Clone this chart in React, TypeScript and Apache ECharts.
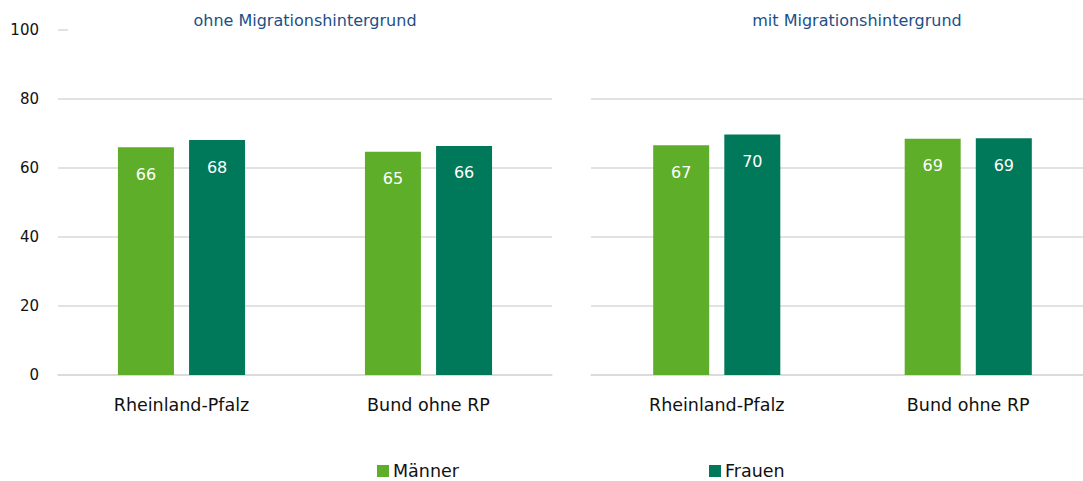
import React, { useEffect, useRef } from "react";
import * as echarts from "echarts";

const categories = ["Rheinland-Pfalz", "Bund ohne RP"];
const panelTitles = ["ohne Migrationshintergrund", "mit Migrationshintergrund"];
const seriesNames = ["Männer", "Frauen"];
const ohneMaenner = [66.0, 64.7];
const ohneFrauen = [68.1, 66.4];
const mitMaenner = [66.6, 68.5];
const mitFrauen = [69.7, 68.6];
const yTicks = [0, 20, 40, 60, 80, 100];

const FONT = "DejaVu Sans";
const LIGHT = "#5eae2a";
const DARK = "#00785a";
const GRIDC = "#d9d9d9";

export default function App() {
  const ref = useRef<HTMLDivElement>(null);
  useEffect(() => {
    if (!ref.current) return;
    const chart = echarts.init(ref.current, undefined, { renderer: "svg" });
    const label = {
      show: true,
      position: "insideTop",
      distance: 19,
      color: "#ffffff",
      fontFamily: FONT,
      fontSize: 16,
      formatter: (p: any) => String(Math.round(p.value)),
    };
    const bar = (name: string, data: number[], idx: number, color: string) => ({
      type: "bar",
      name,
      data,
      xAxisIndex: idx,
      yAxisIndex: idx,
      barWidth: 56,
      barGap: "27%",
      itemStyle: { color },
      label,
    });
    const xAxis = (idx: number) => ({
      type: "category",
      gridIndex: idx,
      data: categories,
      axisLine: { show: true, lineStyle: { color: GRIDC, width: 1.5 } },
      axisTick: { show: false },
      axisLabel: {
        color: "#111111",
        fontFamily: FONT,
        fontSize: 17.5,
        margin: 21,
      },
    });
    // top split line (at 100) is hidden behind the panel titles in the reference
    const splitColors = yTicks.map((t, i) => (i === yTicks.length - 1 ? "rgba(0,0,0,0)" : GRIDC));
    const yAxis = (idx: number) => ({
      type: "value",
      gridIndex: idx,
      min: yTicks[0],
      max: yTicks[yTicks.length - 1],
      interval: yTicks[1] - yTicks[0],
      axisLine: { show: false },
      axisTick: { show: false },
      axisLabel: {
        show: idx === 0,
        color: "#111111",
        fontFamily: FONT,
        fontSize: 15,
        margin: 19,
      },
      splitLine: { show: true, lineStyle: { color: splitColors, width: 1.5 } },
    });
    const titleStyle = { color: "#1b4f86", fontFamily: FONT, fontSize: 16, fontWeight: "normal" };
    chart.setOption({
      animation: false,
      backgroundColor: "#ffffff",
      title: [
        { text: panelTitles[0], left: 305, textAlign: "center", top: 12, padding: 0, textStyle: titleStyle },
        { text: panelTitles[1], left: 857, textAlign: "center", top: 12, padding: 0, textStyle: titleStyle },
      ],
      graphic: [
        {
          type: "line",
          shape: { x1: 58, y1: 30, x2: 68, y2: 30 },
          style: { stroke: GRIDC, lineWidth: 1.5 },
        },
      ],
      legend: [
        {
          data: [{ name: seriesNames[0], icon: "rect" }],
          left: 372,
          top: 457,
          itemWidth: 12,
          itemHeight: 12,
          itemGap: 5,
          textStyle: { color: "#111111", fontFamily: FONT, fontSize: 17.5, padding: [0, 0, 0, -1] },
        },
        {
          data: [{ name: seriesNames[1], icon: "rect" }],
          left: 704,
          top: 457,
          itemWidth: 12,
          itemHeight: 12,
          itemGap: 5,
          textStyle: { color: "#111111", fontFamily: FONT, fontSize: 17.5, padding: [0, 0, 0, -1] },
        },
      ],
      grid: [
        { left: 58, width: 494, top: 30, bottom: 106, containLabel: false },
        { left: 591, width: 503, top: 30, bottom: 106, containLabel: false },
      ],
      xAxis: [xAxis(0), xAxis(1)],
      yAxis: [yAxis(0), yAxis(1)],
      series: [
        bar(seriesNames[0], ohneMaenner, 0, LIGHT),
        bar(seriesNames[1], ohneFrauen, 0, DARK),
        bar(seriesNames[0], mitMaenner, 1, LIGHT),
        bar(seriesNames[1], mitFrauen, 1, DARK),
      ],
    });
    return () => chart.dispose();
  }, []);
  return (
    <div style={{ position: "fixed", left: 0, top: 0, width: 1083, height: 481, overflow: "hidden", background: "#fff" }}>
      <div ref={ref} style={{ width: 1100, height: 481, position: "absolute", left: 0, top: 0 }} />
    </div>
  );
}
